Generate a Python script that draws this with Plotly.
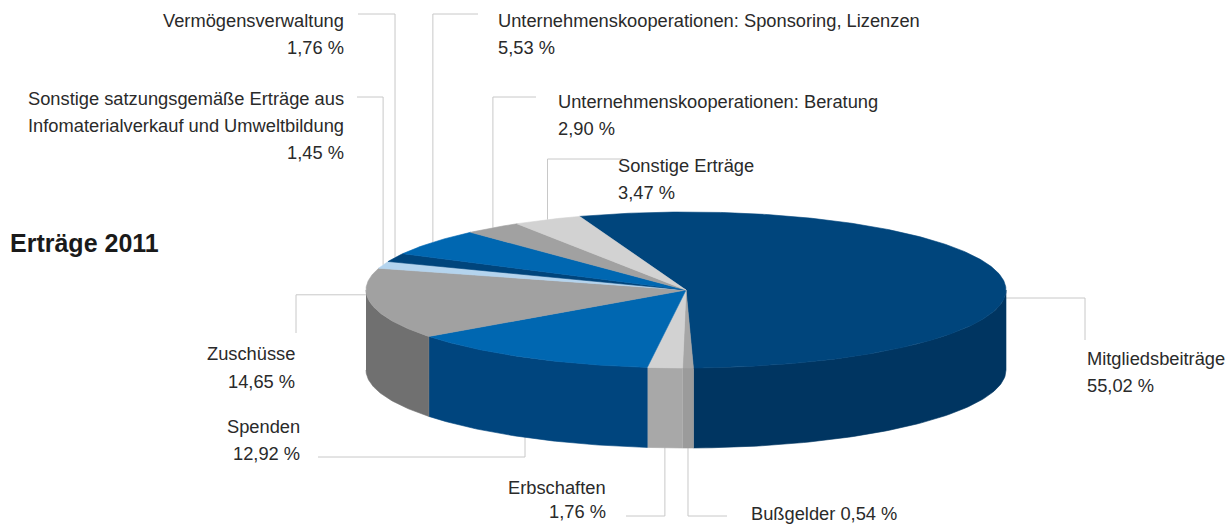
import numpy as np
import plotly.graph_objects as go

# ---------------- data ----------------
labels = [
    "Mitgliedsbeiträge", "Bußgelder", "Erbschaften", "Spenden", "Zuschüsse",
    "Sonstige satzungsgemäße Erträge aus Infomaterialverkauf und Umweltbildung",
    "Vermögensverwaltung", "Unternehmenskooperationen: Sponsoring, Lizenzen",
    "Unternehmenskooperationen: Beratung", "Sonstige Erträge",
]
values = [55.02, 0.54, 1.76, 12.92, 14.65, 1.45, 1.76, 5.53, 2.90, 3.47]
label_lines = [
    ["Mitgliedsbeiträge"], ["Bußgelder"], ["Erbschaften"], ["Spenden"], ["Zuschüsse"],
    ["Sonstige satzungsgemäße Erträge aus", "Infomaterialverkauf und Umweltbildung"],
    ["Vermögensverwaltung"], ["Unternehmenskooperationen: Sponsoring, Lizenzen"],
    ["Unternehmenskooperationen: Beratung"], ["Sonstige Erträge"],
]
title = "Erträge 2011"

# ---------------- style ----------------
top_colors = ["#00457c", "#a6a6a6", "#d2d2d2", "#0067b1", "#a1a1a1",
              "#b4d4ee", "#00457c", "#0067b1", "#a1a1a1", "#d2d2d2"]
side_colors = ["#003561", "#9b9b9b", "#a8a8a8", "#00457e", "#707070",
               "#8fb0cc", "#003561", "#00457e", "#707070", "#a8a8a8"]
line_color = "#c8c8c8"
text_color = "#2a2a2a"
FONT = "Liberation Sans, Arial, sans-serif"
FS = 18.3

W, H = 1229, 524
cx, cy, rx, ry, depth = 686, 290, 320, 78, 80
start_angle = 109.4  # degrees, slices run clockwise

# label placement: (x, first-line y, line gap, xanchor, inline percent)
label_pos = [
    (1086, 358, 27, "left", False),
    (750, 513, 27, "left", True),
    (607, 487, 24, "right", False),
    (301, 426, 27, "right", False),
    (296, 353, 28, "right", False),
    (345, 98, 27, "right", False),
    (345, 20, 27, "right", False),
    (497, 20, 27, "left", False),
    (557, 101, 27, "left", False),
    (617, 165, 27, "left", False),
]
# leader routes: kind, anchor type, knee, end
routes = [
    ("h", "right", 1085, 340),
    ("v", "bottom", 516, 727),
    ("v", "bottom", 516, 626),
    ("v", "bottom", 457, 318),
    ("h", "left", 296, 333),
    ("v", "top", 97, 357),
    ("v", "top", 14, 358),
    ("v", "top", 14, 478),
    ("v", "top", 97, 536),
    ("v", "top", 159, 623),
]


def pct(v):
    return f"{v:.2f}".replace(".", ",") + " %"


vals = np.array(values, dtype=float)
ext = vals / vals.sum() * 360.0
hi = start_angle - np.concatenate([[0], np.cumsum(ext)[:-1]])
lo = hi - ext
mid = (hi + lo) / 2


def ex(a):
    return cx + rx * np.cos(np.radians(a))


def ey(a):
    return cy - ry * np.sin(np.radians(a))


fig = go.Figure()

# leader lines (drawn first so the pie covers their inner ends)
for i, (kind, atype, knee, end) in enumerate(routes):
    if atype == "top":
        ax, ay = ex(mid[i]), ey(mid[i])
    elif atype == "bottom":
        ax, ay = ex(mid[i]), ey(mid[i]) + depth - 1
    elif atype == "right":
        ax, ay = cx + rx - 15, cy + 0.1 * depth
    else:
        ax, ay = cx - rx + 15, cy + 0.06 * depth
    if kind == "v":
        xs, ys = [ax, ax, end], [ay, knee, knee]
    else:
        xs, ys = [ax, knee, knee], [ay, ay, end]
    fig.add_trace(go.Scatter(x=xs, y=ys, mode="lines",
                             line=dict(color=line_color, width=1),
                             hoverinfo="skip", showlegend=False))

# side walls (front half only)
for i in range(len(vals)):
    a1, a2 = max(lo[i], -180.0), min(hi[i], 0.0)
    if a2 <= a1:
        continue
    t = np.linspace(a1, a2, 80)
    xs = np.concatenate([ex(t), ex(t[::-1])])
    ys = np.concatenate([ey(t), ey(t[::-1]) + depth])
    fig.add_trace(go.Scatter(x=xs, y=ys, mode="lines", fill="toself",
                             fillcolor=side_colors[i],
                             line=dict(color=side_colors[i], width=0.6),
                             hoverinfo="text", text=f"{labels[i]}: {pct(values[i])}",
                             showlegend=False))

# top faces
for i in range(len(vals)):
    n = max(int(ext[i] * 2), 6)
    t = np.linspace(hi[i], lo[i], n)
    xs = np.concatenate([[cx], ex(t), [cx]])
    ys = np.concatenate([[cy], ey(t), [cy]])
    fig.add_trace(go.Scatter(x=xs, y=ys, mode="lines", fill="toself",
                             fillcolor=top_colors[i],
                             line=dict(color=top_colors[i], width=0.6),
                             hoverinfo="text", text=f"{labels[i]}: {pct(values[i])}",
                             showlegend=False))

# labels
annotations = []
for i, (x, y0, gap, xa, inline) in enumerate(label_pos):
    lines = list(label_lines[i])
    if inline:
        lines[-1] = lines[-1] + " " + pct(values[i])
    else:
        lines.append(pct(values[i]))
    for k, s in enumerate(lines):
        annotations.append(dict(x=x, y=y0 + k * gap, xref="x", yref="y", text=s,
                                showarrow=False, xanchor=xa, yanchor="middle",
                                borderpad=0,
                                font=dict(family=FONT, size=FS, color=text_color)))

annotations.append(dict(x=8, y=243, xref="x", yref="y", text=f"<b>{title}</b>",
                        showarrow=False, xanchor="left", yanchor="middle",
                        font=dict(family=FONT, size=25, color="#1a1a1a")))

fig.update_layout(
    width=W, height=H, margin=dict(l=0, r=0, t=0, b=0),
    paper_bgcolor="white", plot_bgcolor="white",
    xaxis=dict(range=[0, W], visible=False, fixedrange=True),
    yaxis=dict(range=[H, 0], visible=False, fixedrange=True),
    annotations=annotations, showlegend=False,
)

fig.write_html("out.html", config={"displayModeBar": False},
               post_script="document.body.style.margin='0';")
